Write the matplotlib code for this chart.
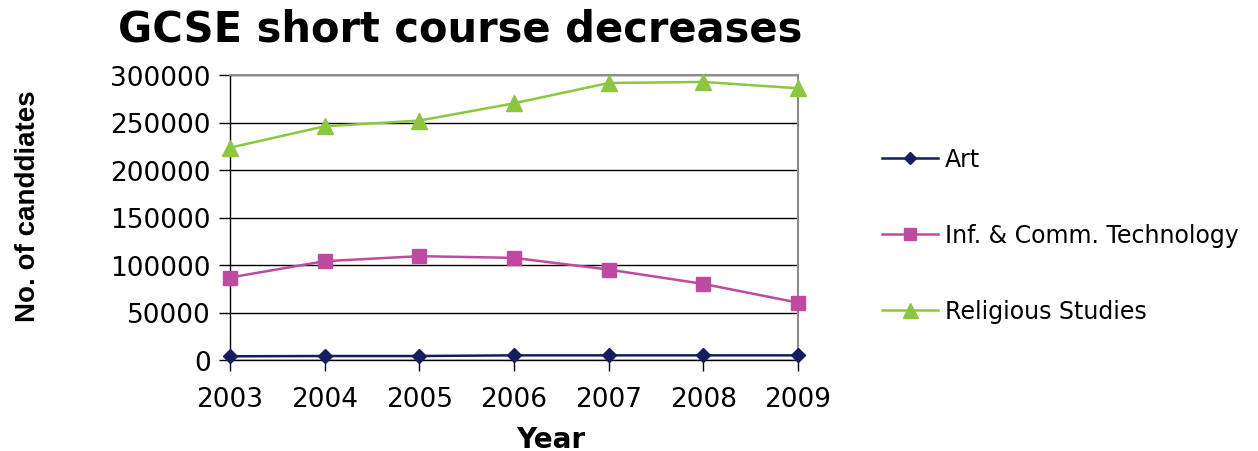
import matplotlib
matplotlib.use("Agg")
import matplotlib.pyplot as plt

years = [2003, 2004, 2005, 2006, 2007, 2008, 2009]
art = [3900, 4200, 4200, 4900, 4900, 4900, 4900]
ict = [86800, 104000, 109300, 107500, 95200, 80100, 60400]
rs = [223500, 246000, 252000, 270200, 291600, 292700, 286000]
series_names = ["Art", "Inf. & Comm. Technology", "Religious Studies"]
yticks = [0, 50000, 100000, 150000, 200000, 250000, 300000]

c_art = "#141E5E"
c_ict = "#BE4B9E"
c_rs = "#8DC63F"

fig = plt.figure(figsize=(12.58, 4.52), dpi=100)
ax = fig.add_axes([230/1258, 1-361/452, (798-230)/1258, (361-76)/452])

l1, = ax.plot(years, art, color=c_art, lw=1.8, marker="D", ms=7, mfc=c_art, mec=c_art, clip_on=False, zorder=5)
l2, = ax.plot(years, ict, color=c_ict, lw=1.8, marker="s", ms=10, mfc=c_ict, mec=c_ict, clip_on=False, zorder=5)
l3, = ax.plot(years, rs, color=c_rs, lw=1.8, marker="^", ms=12, mfc=c_rs, mec=c_rs, clip_on=False, zorder=5)

ax.set_xlim(years[0], years[-1])
ax.set_ylim(0, 300000)
ax.set_xticks(years)
ax.set_xticklabels([str(y) for y in years])
ax.set_yticks(yticks)
ax.set_yticklabels([str(v) for v in yticks])
ax.grid(axis="y", color="black", lw=1.0)
ax.set_axisbelow(True)
for s in ["top", "right"]:
    ax.spines[s].set_color("#8C8C8C")
    ax.spines[s].set_linewidth(1.5)
for s in ["left", "bottom"]:
    ax.spines[s].set_color("black")
    ax.spines[s].set_linewidth(1.0)
ax.tick_params(axis="both", direction="out", length=8, width=1, labelsize=19, colors="black")
ax.tick_params(axis="x", pad=11)
ax.tick_params(axis="y", pad=6)

fig.text(460/1258, 1-30/452, "GCSE short course decreases", ha="center", va="center",
         fontsize=30, fontweight="bold", family="DejaVu Sans")
fig.text(28/1258, 1-206/452, "No. of canddiates", rotation=90, ha="center", va="center",
         fontsize=20, fontweight="bold", family=["Liberation Sans", "DejaVu Sans"])
fig.text(551/1258, 1-440/452, "Year", ha="center", va="center", fontsize=20, fontweight="bold",
         family="DejaVu Sans")

leg = fig.legend([l1, l2, l3], series_names, loc="center left",
                 bbox_to_anchor=(861/1258, 1-236/452), frameon=False, fontsize=17,
                 handlelength=2.35, handletextpad=0.3, labelspacing=2.2, markerscale=0.9)

fig.savefig("out.png", dpi=100)
